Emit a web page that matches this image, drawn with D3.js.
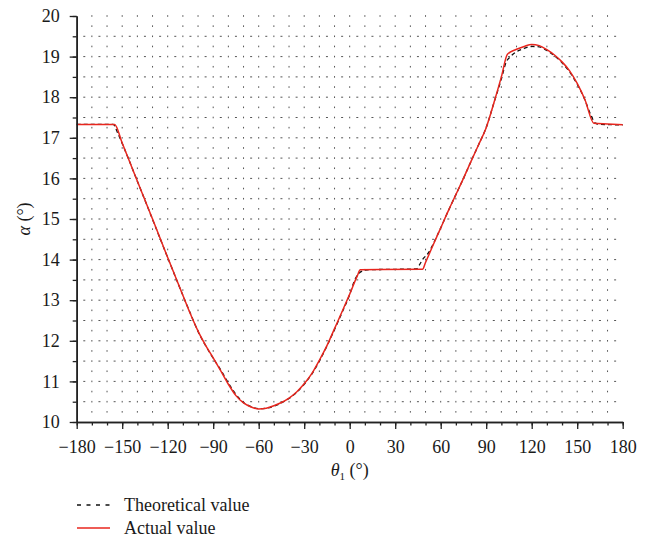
<!DOCTYPE html>
<html>
<head>
<meta charset="utf-8">
<script src="https://cdn.jsdelivr.net/npm/d3@7"></script>
<style>
  html, body { margin: 0; padding: 0; background: #fff; }
  svg { display: block; }
  text { font-family: "Liberation Serif", "Times New Roman", serif; fill: #1a1a1a; }
</style>
</head>
<body>
<svg id="chart" width="650" height="540"></svg>
<script>
// Crank angle θ1 (degrees) and the measured / computed angle α (degrees)
const thetaActual = [-180, -155, -150, -140, -130, -120, -110, -105, -100, -95, -90, -85, -80, -75, -70, -65, -60, -55, -50, -45, -40, -35, -30, -25, -20, -15, -10, -5, 0, 5, 7, 48, 50, 55, 60, 65, 70, 75, 80, 85, 90, 95, 100, 104, 110, 115, 120, 125, 130, 135, 140, 145, 150, 155, 161, 170, 180];
const alphaActual = [17.33, 17.33, 16.87, 15.93, 15.0, 14.05, 13.12, 12.66, 12.24, 11.89, 11.58, 11.26, 10.93, 10.65, 10.47, 10.37, 10.32, 10.34, 10.4, 10.48, 10.59, 10.74, 10.94, 11.19, 11.52, 11.88, 12.3, 12.72, 13.15, 13.6, 13.75, 13.76, 13.93, 14.36, 14.78, 15.2, 15.6, 16.0, 16.42, 16.83, 17.25, 17.85, 18.5, 19.06, 19.18, 19.25, 19.3, 19.27, 19.17, 19.04, 18.87, 18.65, 18.34, 17.95, 17.36, 17.34, 17.32];

const thetaTheory = [-180, -156, -153, -150, -140, -130, -120, -110, -105, -100, -95, -90, -85, -80, -75, -70, -65, -60, -55, -50, -45, -40, -35, -30, -25, -20, -15, -10, -5, 0, 3, 6, 9, 12, 44, 46, 48, 52, 55, 60, 65, 70, 75, 80, 85, 90, 95, 100, 103, 106, 110, 115, 120, 125, 130, 135, 140, 145, 150, 155, 159, 162, 165, 180];
const alphaTheory = [17.33, 17.33, 17.12, 16.86, 15.93, 14.99, 14.05, 13.12, 12.67, 12.23, 11.88, 11.57, 11.28, 10.96, 10.68, 10.48, 10.38, 10.33, 10.34, 10.39, 10.47, 10.58, 10.73, 10.93, 11.18, 11.5, 11.87, 12.28, 12.7, 13.14, 13.47, 13.66, 13.73, 13.75, 13.77, 13.87, 14.0, 14.17, 14.38, 14.78, 15.2, 15.6, 16.0, 16.42, 16.83, 17.25, 17.85, 18.45, 18.85, 19.0, 19.12, 19.2, 19.25, 19.24, 19.15, 19.02, 18.85, 18.62, 18.32, 17.94, 17.56, 17.36, 17.33, 17.32];

const xTicks = [-180, -150, -120, -90, -60, -30, 0, 30, 60, 90, 120, 150, 180];
const xMinor = d3.range(-180, 181, 10);
const yTicks = [10, 11, 12, 13, 14, 15, 16, 17, 18, 19, 20];
const yMinor = d3.range(10, 20.01, 0.5);
const gridX = d3.range(-170, 171, 10);
const gridY = d3.range(10.25, 20.01, 0.25);
const gridDashY = d3.range(10.5, 19.51, 0.5);

const legendItems = [
  { label: "Theoretical value", key: "theory" },
  { label: "Actual value", key: "actual" }
];

const svg = d3.select("#chart");
const x = d3.scaleLinear().domain([-180, 180]).range([76.7, 622.7]);
const y = d3.scaleLinear().domain([10, 20]).range([422, 16]);

const colors = { theory: "#111", actual: "#e8261e" };
const gridColor = "#555";

// dotted background grid
const grid = svg.append("g").attr("class", "grid");
grid.selectAll("g.dashrow").data(gridDashY).join("g").attr("class", "dashrow")
  .selectAll("line").data(d => d3.range(-175, 176, 10).map(t => [t, d])).join("line")
  .attr("x1", d => x(d[0]) - 1).attr("x2", d => x(d[0]) + 1)
  .attr("y1", d => y(d[1])).attr("y2", d => y(d[1]))
  .attr("stroke", gridColor).attr("stroke-width", 1);
grid.selectAll("g.dotcol").data(gridX).join("g").attr("class", "dotcol")
  .selectAll("line").data(t => gridY.map(v => [t, v])).join("line")
  .attr("x1", d => x(d[0])).attr("x2", d => x(d[0]))
  .attr("y1", d => y(d[1]) - 0.8).attr("y2", d => y(d[1]) + 0.8)
  .attr("stroke", gridColor).attr("stroke-width", 1);

// curves
const line = d3.line().x(d => x(d[0])).y(d => y(d[1])).curve(d3.curveMonotoneX);
svg.append("path")
  .datum(d3.zip(thetaTheory, alphaTheory))
  .attr("d", line).attr("fill", "none")
  .attr("stroke", colors.theory).attr("stroke-width", 1.3)
  .attr("stroke-dasharray", "4,3");
svg.append("path")
  .datum(d3.zip(thetaActual, alphaActual))
  .attr("d", line).attr("fill", "none")
  .attr("stroke", colors.actual).attr("stroke-width", 1.5)
  .attr("stroke-linejoin", "round");

// axes
const axisColor = "#222";
const xMinorAxis = svg.append("g").attr("transform", `translate(0,${y(10)})`)
  .call(d3.axisBottom(x).tickValues(xMinor).tickSize(3.5).tickFormat("").tickSizeOuter(0));
const xAxis = svg.append("g").attr("transform", `translate(0,${y(10)})`)
  .call(d3.axisBottom(x).tickValues(xTicks).tickSize(7).tickPadding(11).tickSizeOuter(0));
const yMinorAxis = svg.append("g").attr("transform", `translate(${x(-180)},0)`)
  .call(d3.axisLeft(y).tickValues(yMinor).tickSize(4).tickFormat("").tickSizeOuter(0));
const yAxis = svg.append("g").attr("transform", `translate(${x(-180)},0)`)
  .call(d3.axisLeft(y).tickValues(yTicks).tickSize(7).tickPadding(10).tickSizeOuter(0));

[xMinorAxis, xAxis, yMinorAxis, yAxis].forEach(g => {
  g.selectAll("path.domain").attr("stroke", axisColor).attr("stroke-width", 1.6);
  g.selectAll(".tick line").attr("stroke", axisColor).attr("stroke-width", 1.3);
  g.selectAll(".tick text").attr("font-size", 18).attr("fill", "#1a1a1a")
    .attr("font-family", "Liberation Serif, serif");
});

// axis titles
const xt = svg.append("text").attr("x", x(0)).attr("y", 476)
  .attr("text-anchor", "middle").attr("font-size", 18);
xt.append("tspan").attr("font-style", "italic").text("θ");
xt.append("tspan").attr("font-size", 11).attr("dy", 4).text("1");
xt.append("tspan").attr("dy", -4).text(" (°)");

const yt = svg.append("text").attr("transform", `translate(30,${y(15)}) rotate(-90)`)
  .attr("text-anchor", "middle").attr("font-size", 18);
yt.append("tspan").attr("font-style", "italic").text("α");
yt.append("tspan").text(" (°)");

// legend
const lg = svg.append("g").selectAll("g").data(legendItems).join("g")
  .attr("transform", (d, i) => `translate(77,${505 + i * 23})`);
lg.append("line").attr("x1", 0).attr("x2", 33).attr("y1", 0).attr("y2", 0)
  .attr("stroke", d => colors[d.key])
  .attr("stroke-width", d => d.key === "actual" ? 1.5 : 1.3)
  .attr("stroke-dasharray", d => d.key === "theory" ? "4,5.5" : null);
lg.append("text").attr("x", 47).attr("y", 6).attr("font-size", 18).text(d => d.label);
</script>
</body>
</html>
